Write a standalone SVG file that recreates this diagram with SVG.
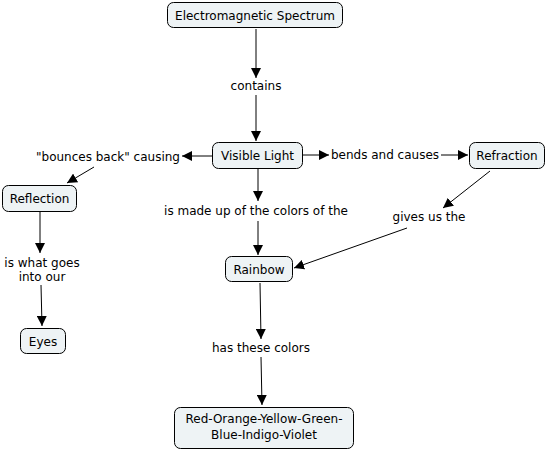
<svg xmlns="http://www.w3.org/2000/svg" width="548" height="451" viewBox="0 0 548 451">
<style>
.n rect{fill:#eef3f5;stroke:#000;stroke-width:1}
text{font-family:"DejaVu Sans",Verdana,sans-serif;font-size:12px;fill:#000;text-anchor:middle}
.c line{stroke:#000;stroke-width:1;marker-end:url(#a)}
</style>
<defs>
<marker id="a" viewBox="0 0 10 10" refX="10" refY="5" markerWidth="10" markerHeight="10" markerUnits="userSpaceOnUse" orient="auto">
<path d="M0,0 L10,5 L0,10 Z" fill="#000"/>
</marker>
</defs>
<rect width="548" height="451" fill="#fff"/>
<g class="c">
<line x1="256" y1="29" x2="256" y2="78"/>
<line x1="256" y1="95" x2="256" y2="141"/>
<line x1="212" y1="156" x2="182" y2="156"/>
<line x1="94" y1="167" x2="67" y2="183"/>
<line x1="302" y1="155" x2="329" y2="155"/>
<line x1="441" y1="155" x2="468" y2="155"/>
<line x1="258" y1="169" x2="258" y2="201"/>
<line x1="258" y1="221" x2="258" y2="255"/>
<line x1="490" y1="171" x2="443" y2="208"/>
<line x1="407" y1="228" x2="294" y2="268"/>
<line x1="40" y1="212" x2="40" y2="253"/>
<line x1="41" y1="285" x2="42" y2="326"/>
<line x1="260" y1="283" x2="261" y2="339"/>
<line x1="261" y1="357" x2="262" y2="405"/>
</g>
<g id="em" class="n"><rect x="167.5" y="2.5" width="175" height="25" rx="6"/><text x="255" y="20">Electromagnetic Spectrum</text></g>
<g id="l-contains"><text x="256" y="90">contains</text></g>
<g id="visible" class="n"><rect x="212.5" y="142.5" width="90" height="26" rx="6"/><text x="257.5" y="160">Visible Light</text></g>
<g id="l-bounces"><text x="108" y="161">"bounces back" causing</text></g>
<g id="reflection" class="n"><rect x="2.5" y="185.5" width="74" height="26" rx="6"/><text x="39.5" y="203">Reflection</text></g>
<g id="l-made"><text x="256" y="215">is made up of the colors of the</text></g>
<g id="l-bends"><text x="385" y="159">bends and causes</text></g>
<g id="refraction" class="n"><rect x="469.5" y="142.5" width="75" height="26" rx="6"/><text x="507" y="160">Refraction</text></g>
<g id="l-gives"><text x="429" y="221">gives us the</text></g>
<g id="rainbow" class="n"><rect x="225.5" y="256.5" width="67" height="25" rx="6"/><text x="259" y="274">Rainbow</text></g>
<g id="l-what"><text x="42" y="267">is what goes</text><text x="42" y="281">into our</text></g>
<g id="eyes" class="n"><rect x="20.5" y="328.5" width="45" height="25" rx="6"/><text x="43" y="346">Eyes</text></g>
<g id="l-has"><text x="261" y="352">has these colors</text></g>
<g id="colors" class="n"><rect x="174.5" y="407.5" width="179" height="41" rx="6"/><text x="264" y="423">Red-Orange-Yellow-Green-</text><text x="264" y="439">Blue-Indigo-Violet</text></g>
</svg>
